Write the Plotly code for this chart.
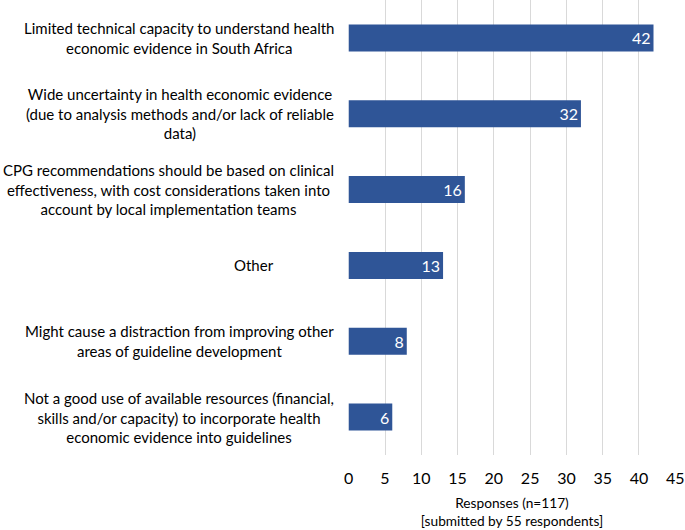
import plotly.graph_objects as go

# survey reasons (top to bottom as shown)
reasons = [
    "Limited technical capacity to understand health<br>economic evidence in South Africa",
    "Wide uncertainty in health economic evidence<br>(due to analysis methods and/or lack of reliable<br>data)",
    "CPG recommendations should be based on clinical<br>effectiveness, with cost considerations taken into<br>account by local implementation teams",
    "Other",
    "Might cause a distraction from improving other<br>areas of guideline development",
    "Not a good use of available resources (financial,<br>skills and/or capacity) to incorporate health<br>economic evidence into guidelines",
]
responses = [42, 32, 16, 13, 8, 6]
x_ticks = [0, 5, 10, 15, 20, 25, 30, 35, 40, 45]

bar_color = "#2F5597"
font = "Lato"

fig = go.Figure(go.Bar(
    x=responses,
    y=reasons,
    orientation="h",
    marker=dict(color=bar_color, line=dict(width=0)),
    width=0.355,
    text=[str(v) for v in responses],
    textposition="inside",
    insidetextanchor="end",
    textfont=dict(color="white", size=16, family=font),
    cliponaxis=False,
))

# category labels as centred multi-line annotations
for r in reasons:
    fig.add_annotation(
        x=0, xref="paper", y=r, yref="y",
        text=r, showarrow=False,
        xanchor="right", align="center",
        xshift=-72 if r == "Other" else -12,
        font=dict(size=15, family=font, color="black"),
    )

fig.update_layout(
    width=685, height=530,
    margin=dict(l=348, r=7, t=0, b=75),
    plot_bgcolor="white", paper_bgcolor="white",
    showlegend=False,
    font=dict(family=font, size=15, color="black"),
    xaxis=dict(
        range=[-0.1, 45.1], tickvals=x_ticks,
        showgrid=True, gridcolor="#D9D9D9", gridwidth=1,
        zeroline=False, showline=False,
        tickfont=dict(size=16), ticks="", ticklabelstandoff=12,
        ticklabeloverflow="allow",
        title=dict(text="Responses (n=117)<br>[submitted by 55 respondents]",
                   font=dict(size=13.7), standoff=12),
    ),
    yaxis=dict(
        categoryorder="array", categoryarray=reasons[::-1],
        showticklabels=False, showgrid=False, zeroline=False,
    ),
    uniformtext=dict(minsize=10, mode="show"),
)

fig.write_html(
    "out.html", config=dict(displayModeBar=False),
    post_script="document.body.style.margin='0';"
                "document.body.style.overflow='hidden';"
                "document.documentElement.style.overflow='hidden';",
)
